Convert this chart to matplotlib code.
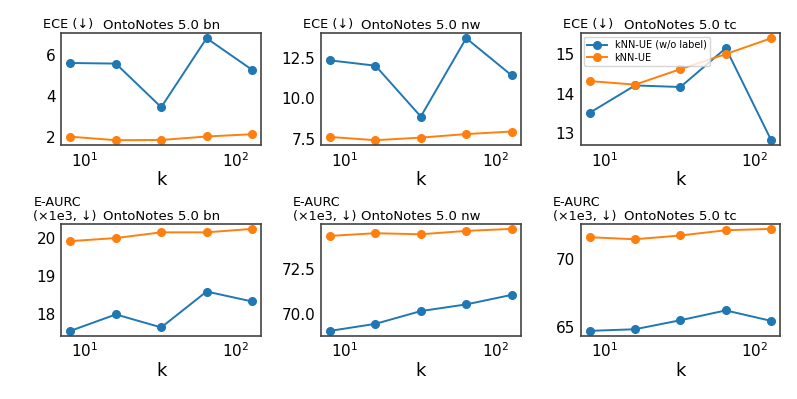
import numpy as np
import matplotlib
matplotlib.use("Agg")
import matplotlib.pyplot as plt

k = [8, 16, 32, 64, 128]

titles = ["OntoNotes 5.0 bn", "OntoNotes 5.0 nw", "OntoNotes 5.0 tc"]

# ECE (top row)
ece_wo = [
    [5.60, 5.57, 3.44, 6.81, 5.27],
    [12.37, 12.04, 8.87, 13.75, 11.44],
    [13.52, 14.21, 14.17, 15.15, 12.83],
]
ece_knn = [
    [2.00, 1.83, 1.84, 2.01, 2.12],
    [7.60, 7.40, 7.56, 7.78, 7.94],
    [14.32, 14.23, 14.62, 15.00, 15.40],
]

# E-AURC x1e3 (bottom row)
aurc_wo = [
    [17.57, 18.00, 17.66, 18.60, 18.34],
    [69.07, 69.46, 70.17, 70.54, 71.07],
    [64.68, 64.80, 65.47, 66.20, 65.42],
]
aurc_knn = [
    [19.92, 20.00, 20.15, 20.15, 20.24],
    [74.35, 74.50, 74.44, 74.63, 74.74],
    [71.64, 71.49, 71.77, 72.16, 72.26],
]

blue = "#1f77b4"
orange = "#ff7f0e"

fig, axes = plt.subplots(2, 3, figsize=(7.97, 3.99), dpi=100)
fig.subplots_adjust(left=0.077, right=0.979, top=0.917, bottom=0.158,
                    wspace=0.30, hspace=0.70)

for row in range(2):
    for col in range(3):
        ax = axes[row, col]
        if row == 0:
            wo, kn = ece_wo[col], ece_knn[col]
        else:
            wo, kn = aurc_wo[col], aurc_knn[col]
        ax.plot(k, wo, marker="o", color=blue, lw=1.4, ms=5.5, label="kNN-UE (w/o label)")
        ax.plot(k, kn, marker="o", color=orange, lw=1.4, ms=5.5, label="kNN-UE")
        ax.set_xscale("log")
        ax.set_xlabel("k", fontsize=13, labelpad=1)
        ax.set_title(titles[col], fontsize=9.5, pad=3)
        ax.tick_params(axis="both", which="both", length=0, labelsize=11, pad=4)
        for s in ax.spines.values():
            s.set_color("#444444")
            s.set_linewidth(1.2)
        if row == 0:
            ax.text(-0.09, 1.02, "ECE (\u2193)", transform=ax.transAxes,
                    fontsize=9.3, ha="left", va="bottom")
        else:
            ax.text(-0.14, 1.01, "E-AURC\n(\u00d71e3, \u2193)", transform=ax.transAxes,
                    fontsize=9.2, ha="left", va="bottom", linespacing=1.05)

axes[0, 0].set_yticks([2, 4, 6])
axes[0, 1].set_yticks([7.5, 10.0, 12.5])
axes[0, 2].set_yticks([13, 14, 15])
axes[1, 0].set_yticks([18, 19, 20])
axes[1, 1].set_yticks([70.0, 72.5])
axes[1, 2].set_yticks([65, 70])

axes[0, 2].legend(loc="upper left", fontsize=7, frameon=True, borderpad=0.35,
                  handlelength=2.0, labelspacing=0.3, borderaxespad=0.35)

fig.savefig("out.png", dpi=100)
